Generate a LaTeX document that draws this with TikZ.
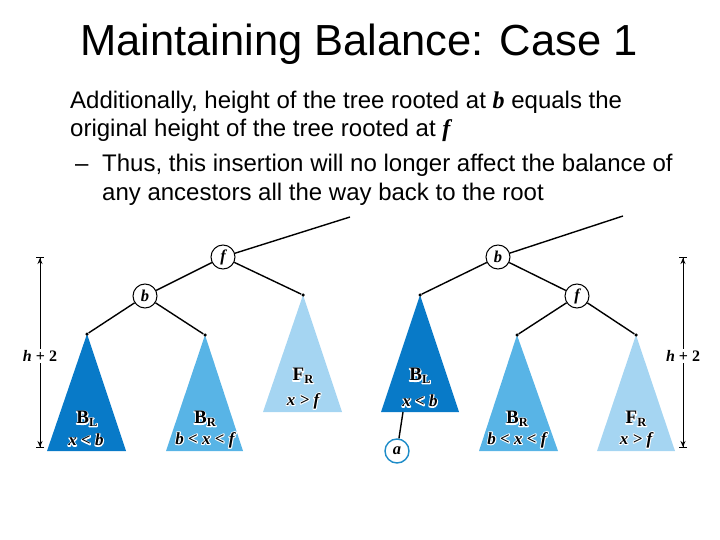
\documentclass[tikz,border=0pt]{standalone}
\usepackage{fontspec}
\setmainfont{Liberation Sans}
\newfontfamily\tms{Liberation Serif}
\usetikzlibrary{arrows.meta}
\definecolor{dkblue}{RGB}{8,122,200}
\definecolor{mdblue}{RGB}{88,180,230}
\definecolor{ltblue}{RGB}{165,213,242}
\definecolor{acirc}{RGB}{30,140,200}
\newcommand\subL[1]{{\fontsize{12.5}{12.5}\selectfont\raisebox{-2.5pt}{#1}}}
\newcommand\vb[1]{{\tms\bfseries\itshape #1}}
\newcommand\halo[1]{\leavevmode\rlap{\special{pdf:literal direct 2 Tr 1 1 1 RG 2 w 1 j}#1\special{pdf:literal direct 0 Tr 0 0 0 RG 1 w 0 j}}#1}
\tikzset{
 edge/.style={line width=1.4pt},
 key/.style={circle,draw,line width=1pt,fill=white,minimum size=24pt,inner sep=0pt,font=\tms\bfseries\itshape\fontsize{16.5}{16.5}\selectfont},
 apexdot/.style={circle,fill=black,inner sep=0pt,minimum size=3.5pt},
 tname/.style={font=\tms\bfseries\fontsize{19}{19}\selectfont, inner sep=0pt},
 trange/.style={font=\tms\bfseries\itshape\fontsize{17}{17}\selectfont, inner sep=0pt},
 dim/.style={line width=1pt,{Bar[width=8pt,line width=1pt]Stealth[length=6pt,width=5pt]}-{Stealth[length=6pt,width=5pt]Bar[width=8pt,line width=1pt]}},
 dimlabel/.style={fill=white,inner sep=1.5pt,font=\tms\bfseries\fontsize{16}{16}\selectfont},
 bodytext/.style={anchor=base west,inner sep=0pt,font=\fontsize{24}{24}\selectfont}
}
\begin{document}
\begin{tikzpicture}[x=1pt,y=-1pt]
\useasboundingbox (0,0) rectangle (720,540);
% title and text
\node[anchor=base,inner sep=0pt,font=\fontsize{43.5}{43.5}\selectfont] (title) at (359,56) {Maintaining Balance: Case 1};
\node[bodytext] (l1) at (70,109) {Additionally, height of the tree rooted at \vb{b} equals the};
\node[bodytext] (l2) at (70,137) {original height of the tree rooted at \vb{f}};
\node[bodytext] (dash) at (75,172) {--};
\node[bodytext] (l3) at (102,172) {Thus, this insertion will no longer affect the balance of};
\node[bodytext] (l4) at (102,201) {any ancestors all the way back to the root};

% ---------- left tree ----------
\fill[dkblue] (87,334) -- (126,451) -- (47,451) -- cycle;
\fill[mdblue] (205,335) -- (243,451) -- (166,451) -- cycle;
\fill[ltblue] (303,295) -- (342,412) -- (263,412) -- cycle;
\node[apexdot] (lBL) at (87,334) {};
\node[apexdot] (lBR) at (205,335) {};
\node[apexdot] (lFR) at (303,295) {};
\coordinate (ltop) at (350,217);
\node[key] (lf) at (223,257) {f};
\node[key] (lb) at (145,296) {b};
\draw[edge] (lf) -- (ltop);
\draw[edge] (lf) -- (lb);
\draw[edge] (lf) -- (lFR);
\draw[edge] (lb) -- (lBL);
\draw[edge] (lb) -- (lBR);
\node[tname] (lBLn) at (87,419) {\halo{B\subL{L}}};
\node[trange] (lBLr) at (86,440) {\halo{x < b}};
\node[tname] (lBRn) at (205,419) {\halo{B\subL{R}}};
\node[trange] (lBRr) at (205,440) {\halo{b < x < f}};
\node[tname] (lFRn) at (303,376) {\halo{F\subL{R}}};
\node[trange] (lFRr) at (303,401) {\halo{x > f}};
\coordinate (ldtop) at (40,257);
\coordinate (ldbot) at (40,448);
\draw[dim] (ldtop) -- (ldbot);
\node[dimlabel] (ldl) at (40,356) {\itshape h\upshape\ + 2};

% ---------- right tree ----------
\fill[dkblue] (420,295) -- (459,412) -- (381,412) -- cycle;
\fill[mdblue] (517,335) -- (558,451) -- (479,451) -- cycle;
\fill[ltblue] (636,335) -- (675,451) -- (597,451) -- cycle;
\node[apexdot] (rBL) at (420,295) {};
\node[apexdot] (rBR) at (517,335) {};
\node[apexdot] (rFR) at (636,335) {};
\coordinate (rtop) at (623,216);
\coordinate (rBLbase) at (403,412);
\node[key] (rb) at (498,257) {b};
\node[key] (rf) at (577,296) {f};
\draw[edge] (rb) -- (rtop);
\draw[edge] (rb) -- (rBL);
\draw[edge] (rb) -- (rf);
\draw[edge] (rf) -- (rBR);
\draw[edge] (rf) -- (rFR);
\node[key,draw=acirc,line width=1.4pt] (ra) at (397,451) {a};
\draw[edge] (rBLbase) -- (ra);
\node[tname] (rBLn) at (420,376) {\halo{B\subL{L}}};
\node[trange] (rBLr) at (420,401) {\halo{x < b}};
\node[tname] (rBRn) at (517,419) {\halo{B\subL{R}}};
\node[trange] (rBRr) at (517,440) {\halo{b < x < f}};
\node[tname] (rFRn) at (636,419) {\halo{F\subL{R}}};
\node[trange] (rFRr) at (636,440) {\halo{x > f}};
\coordinate (rdtop) at (683,257);
\coordinate (rdbot) at (683,448);
\draw[dim] (rdtop) -- (rdbot);
\node[dimlabel] (rdl) at (683,356) {\itshape h\upshape\ + 2};
\end{tikzpicture}
\end{document}
